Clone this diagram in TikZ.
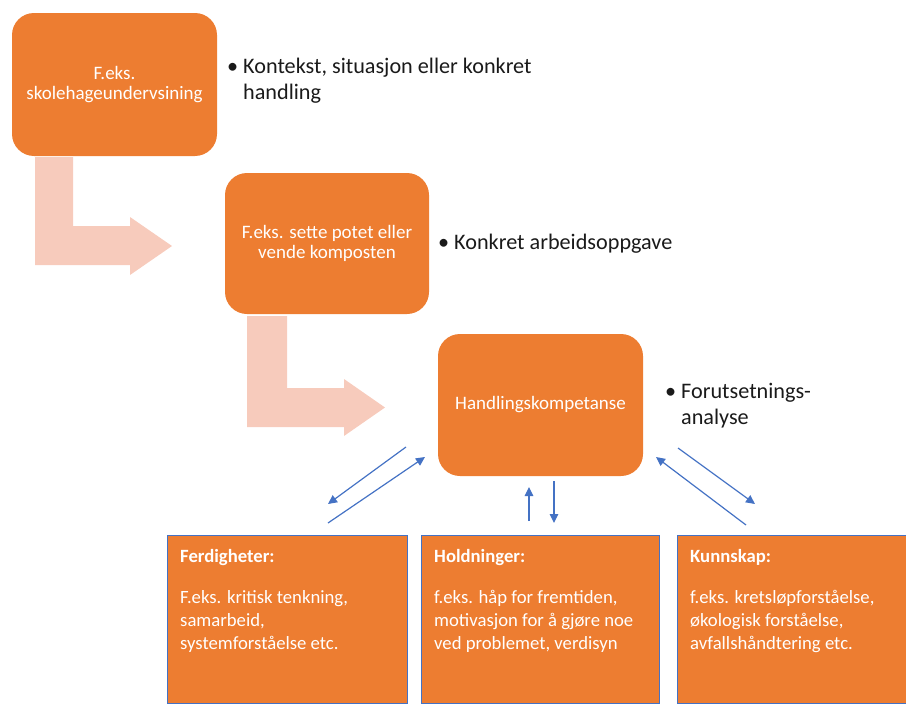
\documentclass[tikz,border=0pt]{standalone}
\usepackage{fontspec}
\setmainfont{Carlito}
\usetikzlibrary{arrows.meta,positioning,calc}
\definecolor{boxorange}{HTML}{ED7D31}
\definecolor{paleorange}{HTML}{F7CBBC}
\definecolor{linkblue}{HTML}{4472C4}
\definecolor{inktext}{HTML}{1A1A1A}
\newcommand{\pkt}{\makebox[16pt][l]{\textbullet}}
\tikzset{
  stage/.style={fill=boxorange,rounded corners=22pt,align=center,text=white,
    font=\fontsize{19}{20.5}\selectfont,inner sep=0pt},
  aspect/.style={fill=boxorange,draw=linkblue,line width=1pt,inner sep=0pt,anchor=north west},
  aspecttext/.style={anchor=north west,align=left,text=white,
    font=\fontsize{18.7}{23}\selectfont,inner sep=0pt},
  note/.style={anchor=west,align=left,text=inktext,font=\fontsize{22.2}{26}\selectfont,inner sep=0pt},
  bentarrow/.style={fill=paleorange},
  link/.style={-{Triangle[length=9pt,width=8.5pt]},draw=linkblue,line width=1.2pt}
}

\begin{document}
\begin{tikzpicture}[x=1pt,y=-1pt]
  \useasboundingbox (0,0) rectangle (906,704);
  \clip (0,0) rectangle (906,704);
  % bent arrows between the steps
  \path[bentarrow] (35,157) -- (73,157) -- (73,226) -- (130,226) -- (130,217) -- (172,246)
    -- (130,275) -- (130,265) -- (35,265) -- cycle;
  \path[bentarrow] (247,316) -- (287,316) -- (287,388) -- (344,388) -- (344,379) -- (385,407.5)
    -- (344,436) -- (344,427) -- (247,427) -- cycle;
  % steps
  \node[stage,minimum width=205pt,minimum height=143pt] (ctx) at (114.5,84.5) {F.eks.\\skolehageundervsining};
  \node[stage,minimum width=204pt,minimum height=141pt] (task) at (327,243.5) {F.eks. sette potet eller\\vende komposten};
  \node[stage,minimum width=205pt,minimum height=142pt] (hk) at (540.5,405) {Handlingskompetanse};
  % notes
  \node[note] (ctxnote) at (227,81) {\pkt Kontekst, situasjon eller konkret\\\hspace*{16pt}handling};
  \node[note] (tasknote) at (438,244) {\pkt Konkret arbeidsoppgave};
  \node[note] (hknote) at (665,406) {\pkt Forutsetnings-\\\hspace*{16pt}analyse};
  % aspects
  \node[aspect,minimum width=240pt,minimum height=168pt] (ferd) at (167,535) {};
  \node[aspect,minimum width=238pt,minimum height=168pt] (hold) at (421,535) {};
  \node[aspect,minimum width=240pt,minimum height=168pt] (kunn) at (677,535) {};
  \node[aspecttext] (ferdtxt) at ([shift={(13,14)}]ferd.north west)
    {\textbf{Ferdigheter:}\\[18pt]F.eks. kritisk tenkning,\\samarbeid,\\systemforståelse etc.};
  \node[aspecttext] (holdtxt) at ([shift={(13,14)}]hold.north west)
    {\textbf{Holdninger:}\\[18pt]f.eks. håp for fremtiden,\\motivasjon for å gjøre noe\\ved problemet, verdisyn};
  \node[aspecttext] (kunntxt) at ([shift={(13,14)}]kunn.north west)
    {\textbf{Kunnskap:}\\[18pt]f.eks. kretsløpforståelse,\\økologisk forståelse,\\avfallshåndtering etc.};
  % links
  \coordinate (l1s) at (406,447); \coordinate (l1e) at (328,504);
  \coordinate (l2s) at (328,523); \coordinate (l2e) at (425,457);
  \coordinate (m1s) at (529,521); \coordinate (m1e) at (529,487);
  \coordinate (m2s) at (554,481); \coordinate (m2e) at (554,523);
  \coordinate (r1s) at (678,448); \coordinate (r1e) at (755,504);
  \coordinate (r2s) at (746,525); \coordinate (r2e) at (656,457);
  \draw[link] (l1s) -- (l1e);
  \draw[link] (l2s) -- (l2e);
  \draw[link] (m1s) -- (m1e);
  \draw[link] (m2s) -- (m2e);
  \draw[link] (r1s) -- (r1e);
  \draw[link] (r2s) -- (r2e);
\end{tikzpicture}
\end{document}
